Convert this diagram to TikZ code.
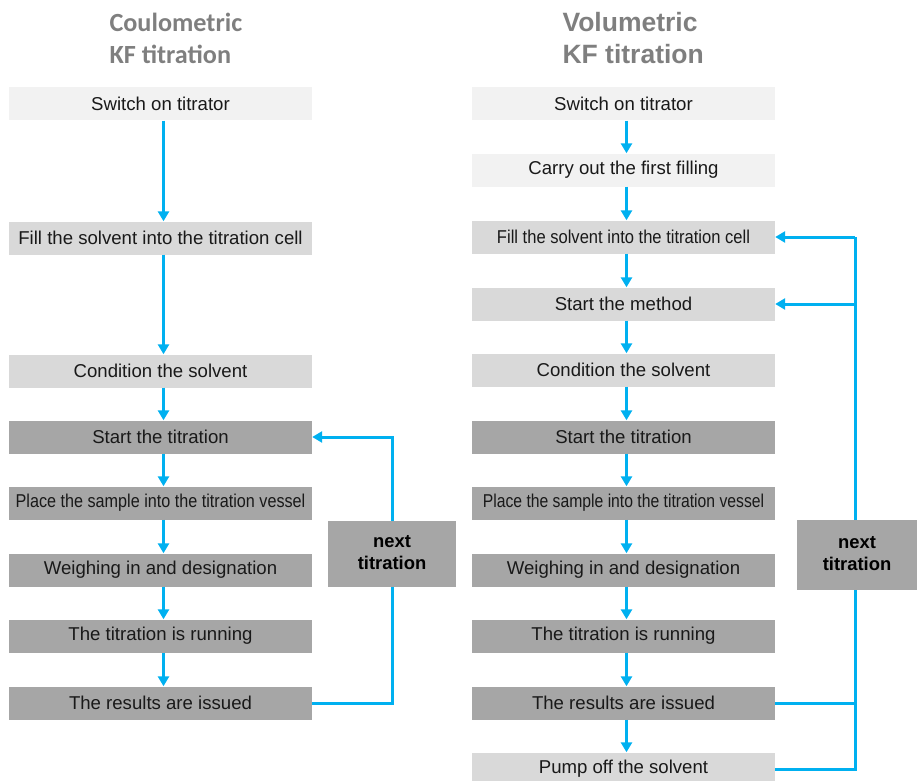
\documentclass[tikz,border=0pt]{standalone}
\usepackage{fontspec}
\usepackage{graphicx}
\setmainfont{Liberation Sans}
\newfontfamily\calib{Carlito}
\usetikzlibrary{arrows.meta}
\definecolor{kfblue}{HTML}{00B0F0}
\definecolor{boxA}{HTML}{F2F2F2}
\definecolor{boxB}{HTML}{D9D9D9}
\definecolor{boxC}{HTML}{A6A6A6}
\definecolor{ttl}{HTML}{7F7F7F}
\begin{document}
\begin{tikzpicture}[x=1pt,y=-1pt,
  stepbox/.style={minimum width=303pt,minimum height=33pt,inner sep=0pt,
    font=\fontsize{18.6}{21}\selectfont,text=black!90},
  la/.style={stepbox,fill=boxA},
  lb/.style={stepbox,fill=boxB},
  lc/.style={stepbox,fill=boxC},
  nextbox/.style={fill=boxC,inner sep=0pt,align=center,
    font=\fontsize{18.4}{23}\selectfont\bfseries},
  arr/.style={draw=kfblue,line width=3pt,-{Triangle[length=10pt,width=11pt]}},
  ln/.style={draw=kfblue,line width=3pt},
  title/.style={align=left,text=ttl,anchor=west,font=\bfseries}]
\useasboundingbox (0,0) rectangle (918,781);

% titles
\node[title,font=\calib\bfseries\fontsize{26.2}{32}\selectfont] (tL) at (106,38) {Coulometric\\KF titration};
\node[title,font=\bfseries\fontsize{26.5}{32}\selectfont] (tR) at (559,38) {Volumetric\\KF titration};

% left column
\node[la] (L1) at (160.5,104) {Switch on titrator};
\node[lb] (L2) at (160.5,238) {Fill the solvent into the titration cell};
\node[lb] (L3) at (160.5,371) {Condition the solvent};
\node[lc] (L4) at (160.5,437) {Start the titration};
\node[lc] (L5) at (160.5,503) {\scalebox{0.87}[1]{Place the sample into the titration vessel}};
\node[lc] (L6) at (160.5,570) {Weighing in and designation};
\node[lc] (L7) at (160.5,636) {The titration is running};
\node[lc] (L8) at (160.5,703) {The results are issued};
\node[nextbox,minimum width=128pt,minimum height=66pt] (NL) at (392,554) {\raisebox{3pt}{\begin{tabular}{@{}c@{}}next\\[-1pt]titration\end{tabular}}};

\foreach \a/\b in {L1/L2,L2/L3,L3/L4,L4/L5,L5/L6,L6/L7,L7/L8}
  \draw[arr] ([xshift=3pt]\a.south) -- ([xshift=3pt]\b.north);
\draw[arr] (NL.north) |- (L4.east);
\draw[ln] (NL.south) |- (L8.east);

% right column
\node[la] (R1) at (623.5,104) {Switch on titrator};
\node[la] (R2) at (623.5,170) {Carry out the first filling};
\node[lb] (R3) at (623.5,237) {\scalebox{0.89}[1]{Fill the solvent into the titration cell}};
\node[lb] (R4) at (623.5,304) {Start the method};
\node[lb] (R5) at (623.5,370) {Condition the solvent};
\node[lc] (R6) at (623.5,437) {Start the titration};
\node[lc] (R7) at (623.5,503) {\scalebox{0.845}[1]{Place the sample into the titration vessel}};
\node[lc] (R8) at (623.5,570) {Weighing in and designation};
\node[lc] (R9) at (623.5,636) {The titration is running};
\node[lc] (R10) at (623.5,703) {The results are issued};
\node[lb] (R11) at (623.5,769) {Pump off the solvent};

\foreach \a/\b in {R1/R2,R2/R3,R3/R4,R4/R5,R5/R6,R6/R7,R7/R8,R8/R9,R9/R10,R10/R11}
  \draw[arr] ([xshift=3pt]\a.south) -- ([xshift=3pt]\b.north);

\coordinate (vx) at (855,0);
\draw[ln] (R11.east) -- (R11.east -| vx) -- (R3.east -| vx);
\draw[ln] (R10.east) -- (R10.east -| vx);
\draw[arr] (R3.east -| vx) -- (R3.east);
\draw[arr] (R4.east -| vx) -- (R4.east);
\node[nextbox,minimum width=120pt,minimum height=70pt] (NR) at (857,555) {\begin{tabular}{@{}c@{}}next\\[-1pt]titration\end{tabular}};
\end{tikzpicture}
\end{document}
